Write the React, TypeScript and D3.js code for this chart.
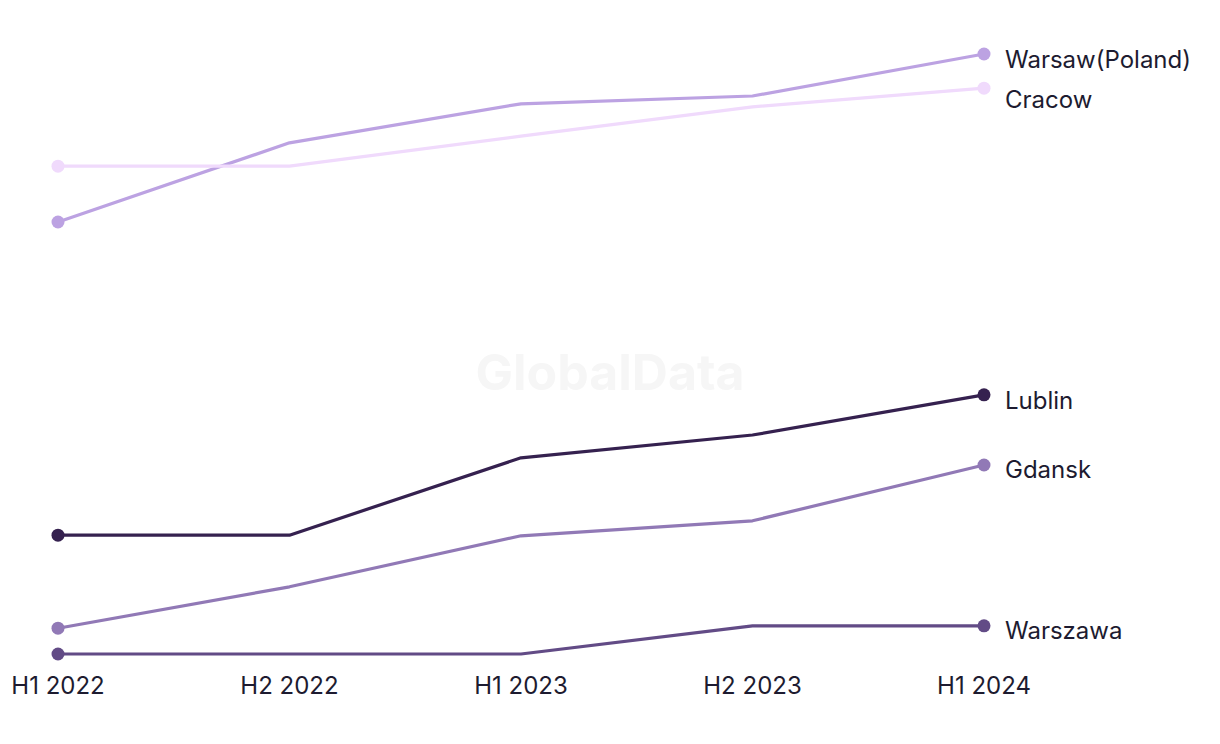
import React from "react";
import * as d3 from "d3";

const periods = ["H1 2022", "H2 2022", "H1 2023", "H2 2023", "H1 2024"];
const seriesNames = ["Warsaw(Poland)", "Cracow", "Lublin", "Gdansk", "Warszawa"];
const warsawPoland = [72, 85.2, 91.7, 93, 100];
const cracow = [81.3, 81.3, 86.3, 91.2, 94.3];
const lublin = [19.8, 19.8, 32.7, 36.5, 43.2];
const gdansk = [4.3, 11.2, 19.7, 22.2, 31.5];
const warszawa = [0, 0, 0, 4.7, 4.7];
const seriesValues = [warsawPoland, cracow, lublin, gdansk, warszawa];
const seriesColors = ["#bca2e2", "#f0dafc", "#35214f", "#9179b6", "#624b86"];
const labelOffsets = [7, 13, 8, 6, 7];

const W = 1220;
const H = 744;

export default function App() {
  const x = d3.scalePoint<string>().domain(periods).range([58, 984]);
  const y = d3.scaleLinear().domain([0, 100]).range([654, 54]);
  const line = d3
    .line<number>()
    .x((_, i) => x(periods[i]) as number)
    .y((d) => y(d));
  const font = "Inter, 'Liberation Sans', sans-serif";
  return (
    <svg
      width={W}
      height={H}
      style={{ position: "absolute", left: 0, top: 0, background: "#fff" }}
    >
      <text
        x={610}
        y={390}
        textAnchor="middle"
        fontFamily={font}
        fontWeight={700}
        fontSize={50}
        fill="#f6f6f6"
      >
        GlobalData
      </text>
      {seriesValues.map((vals, si) => (
        <g key={seriesNames[si]}>
          <path
            d={line(vals) || ""}
            fill="none"
            stroke={seriesColors[si]}
            strokeWidth={3.2}
            strokeLinejoin="round"
          />
          <circle
            cx={x(periods[0])}
            cy={y(vals[0])}
            r={6.5}
            fill={seriesColors[si]}
          />
          <circle
            cx={x(periods[periods.length - 1])}
            cy={y(vals[vals.length - 1])}
            r={6.5}
            fill={seriesColors[si]}
          />
          <text
            x={(x(periods[periods.length - 1]) as number) + 21}
            y={y(vals[vals.length - 1]) + labelOffsets[si]}
            dominantBaseline="middle"
            fontFamily={font}
            fontSize={24}
            fill="#1d1b30"
          >
            {seriesNames[si]}
          </text>
        </g>
      ))}
      {periods.map((p) => (
        <text
          key={p}
          x={x(p)}
          y={687}
          textAnchor="middle"
          dominantBaseline="middle"
          fontFamily={font}
          fontSize={24}
          fill="#1d1b30"
        >
          {p}
        </text>
      ))}
    </svg>
  );
}
